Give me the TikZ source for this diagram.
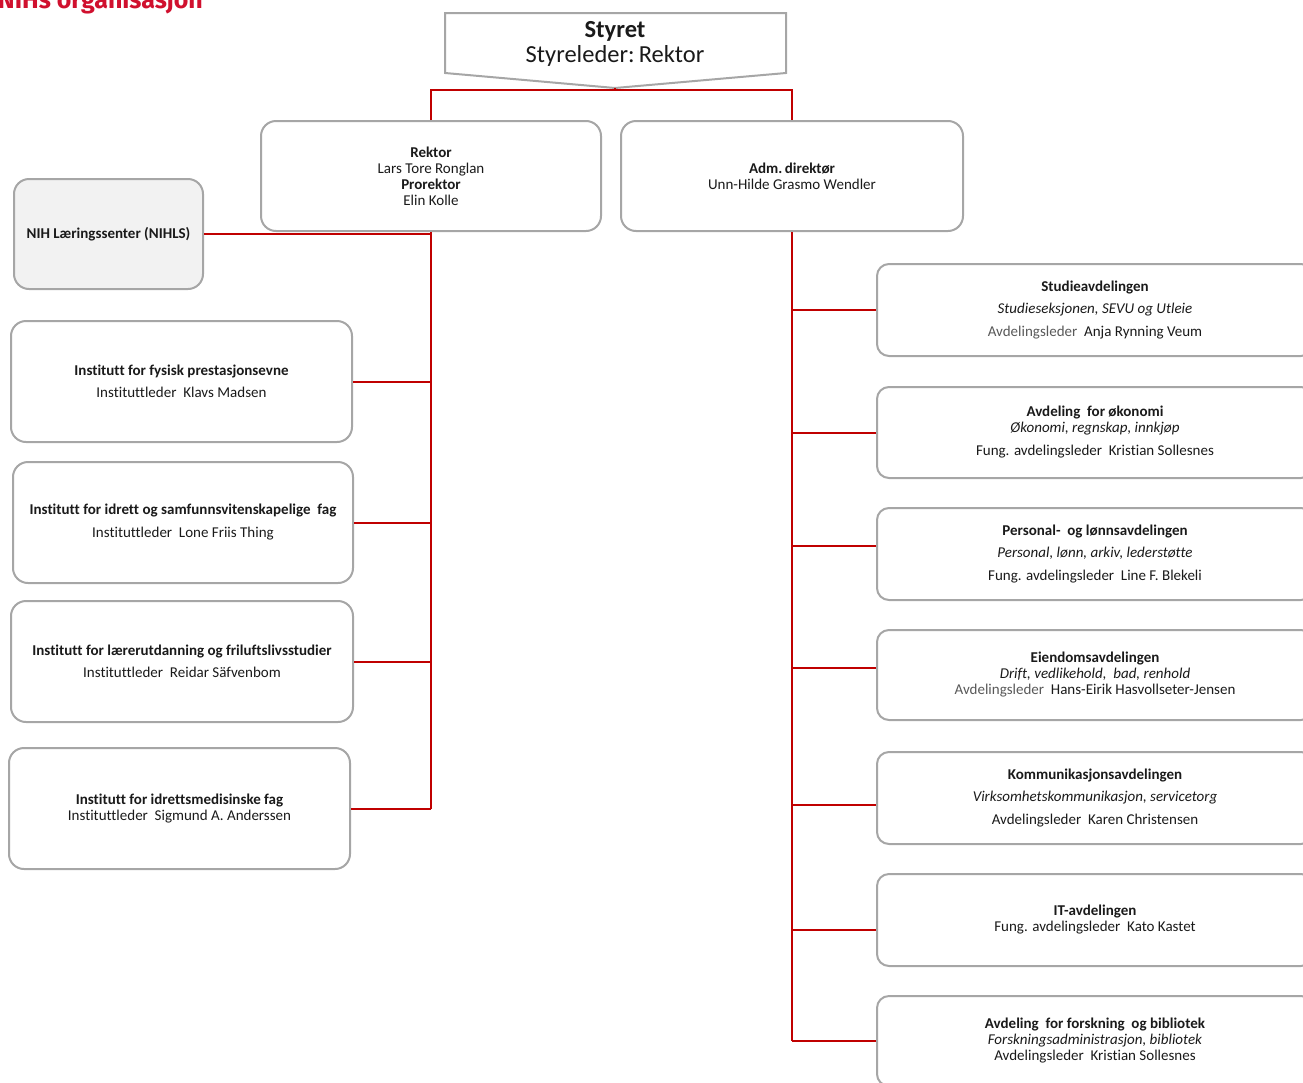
\documentclass[tikz,border=0pt]{standalone}
\usepackage{fontspec}
\setmainfont{Carlito}[Ligatures=NoCommon]
\newfontfamily\titlefont{Fira Sans}
\definecolor{boxgray}{HTML}{A6A6A6}
\definecolor{linered}{HTML}{C00000}
\definecolor{titlered}{HTML}{D0102E}
\definecolor{txt}{HTML}{1A1A1A}
\definecolor{txtgray}{HTML}{595959}
\definecolor{nihfill}{HTML}{F2F2F2}
\tikzset{
  orgbox/.style={draw=boxgray, line width=2pt, rounded corners=15pt, fill=white,
    align=center, text=txt, inner sep=0pt, font=\fontsize{15}{16}\selectfont},
  rbox/.style={orgbox, rounded corners=12pt, minimum width=436pt},
  con/.style={draw=linered, line width=2pt},
}
\begin{document}
\begin{tikzpicture}[x=1pt,y=-1pt]
\useasboundingbox (0,0) rectangle (1303,1082);
\clip (0,0) rectangle (1303,1082);

% title
\node[anchor=base west, inner sep=0pt, text=titlered, font=\fontsize{25}{28}\selectfont\titlefont\bfseries] (title) at (-2,8) {NIHs organisasjon};

% Styret
\draw[draw=boxgray, line width=2pt, fill=white] (445,13) -- (786,13) -- (786,73) -- (615,88) -- (445,73) -- cycle;
\node[align=center, inner sep=0pt, text=txt, font=\fontsize{24.5}{25}\selectfont] (sty) at (615,43.5) {\textbf{Styret}\\Styreleder:\,Rektor};
\coordinate (stytip) at (615,88);
\coordinate (bar) at (615,90);

% top level
\node[orgbox, minimum width=340pt, minimum height=110pt] (rek) at (431,176)
  {\textbf{Rektor}\\Lars Tore Ronglan\\\textbf{Prorektor}\\Elin Kolle};
\node[orgbox, minimum width=342pt, minimum height=110pt] (adm) at (792,176)
  {\textbf{Adm.\,direktør}\\Unn-Hilde Grasmo Wendler};

% left side
\node[orgbox, fill=nihfill, minimum width=189pt, minimum height=110pt] (nihls) at (108.5,234)
  {\textbf{NIH Læringssenter (NIHLS)}};
\node[orgbox, minimum width=341pt, minimum height=121pt] (i1) at (181.5,381.5)
  {\textbf{Institutt for fysisk prestasjonsevne}\\[6pt]Instituttleder\ \ Klavs Madsen};
\node[orgbox, minimum width=340pt, minimum height=121pt] (i2) at (183,522.5)
  {\textbf{Institutt for idrett og samfunnsvitenskapelige\ \ fag}\\[7pt]Instituttleder\ \ Lone Friis Thing};
\node[orgbox, minimum width=342pt, minimum height=121pt] (i3) at (182,661.5)
  {\textbf{Institutt for lærerutdanning og friluftslivsstudier}\\[6pt]Instituttleder\ \ Reidar Säfvenbom};
\node[orgbox, minimum width=341pt, minimum height=121pt] (i4) at (179.5,808.5)
  {\textbf{Institutt for idrettsmedisinske fag}\\Instituttleder\ \ Sigmund A. Anderssen};

% right side
\node[rbox, minimum height=92pt] (s1) at (1095,310)
  {\textbf{Studieavdelingen}\\[6.5pt]\textit{Studieseksjonen, SEVU og Utleie}\\[7pt]\textcolor{txtgray}{Avdelingsleder}\ \ Anja Rynning Veum};
\node[rbox, minimum height=91pt] (s2) at (1095,432.5)
  {\textbf{Avdeling\ \ for økonomi}\\\textit{Økonomi, regnskap, innkjøp}\\[7pt]Fung. avdelingsleder\ \ Kristian Sollesnes};
\node[rbox, minimum height=92pt] (s3) at (1095,554)
  {\textbf{Personal-\ \ og lønnsavdelingen}\\[6.5pt]\textit{Personal, lønn, arkiv, lederstøtte}\\[7pt]Fung. avdelingsleder\ \ Line F. Blekeli};
\node[rbox, minimum height=90pt] (s4) at (1095,675)
  {\textbf{Eiendomsavdelingen}\\\textit{Drift, vedlikehold,\ \ bad, renhold}\\\textcolor{txtgray}{Avdelingsleder}\ \ Hans-Eirik Hasvollseter-Jensen};
\node[rbox, minimum height=92pt] (s5) at (1095,798)
  {\textbf{Kommunikasjonsavdelingen}\\[6.5pt]\textit{Virksomhetskommunikasjon, servicetorg}\\[7pt]Avdelingsleder\ \ Karen Christensen};
\node[rbox, minimum height=92pt] (s6) at (1095,920)
  {\textbf{IT-avdelingen}\\Fung. avdelingsleder\ \ Kato Kastet};
\node[rbox, minimum height=90pt] (s7) at (1095,1041)
  {\textbf{Avdeling\ \ for forskning\ \ og bibliotek}\\\textit{Forskningsadministrasjon, bibliotek}\\Avdelingsleder\ \ Kristian Sollesnes};

% connectors
\draw[con] (stytip) -- (bar);
\draw[con] (rek.north) |- (bar) -| (adm.north);
\draw[con] (rek.south) -- (rek.south |- i4.east);
\foreach \n in {nihls,i1,i2,i3,i4} \draw[con] (\n.east) -- (\n.east -| rek.south);
\draw[con] (adm.south) -- (adm.south |- s7.west);
\coordinate (c1) at (s1.west);
\coordinate (c2) at (s2.west);
\coordinate (c3) at ([yshift=8pt]s3.west);
\coordinate (c4) at ([yshift=7pt]s4.west);
\coordinate (c5) at ([yshift=-7pt]s5.west);
\coordinate (c6) at ([yshift=-10pt]s6.west);
\coordinate (c7) at (s7.west);
\foreach \n in {c1,c2,c3,c4,c5,c6,c7} \draw[con] (\n) -- (\n -| adm.south);
\end{tikzpicture}
\end{document}
